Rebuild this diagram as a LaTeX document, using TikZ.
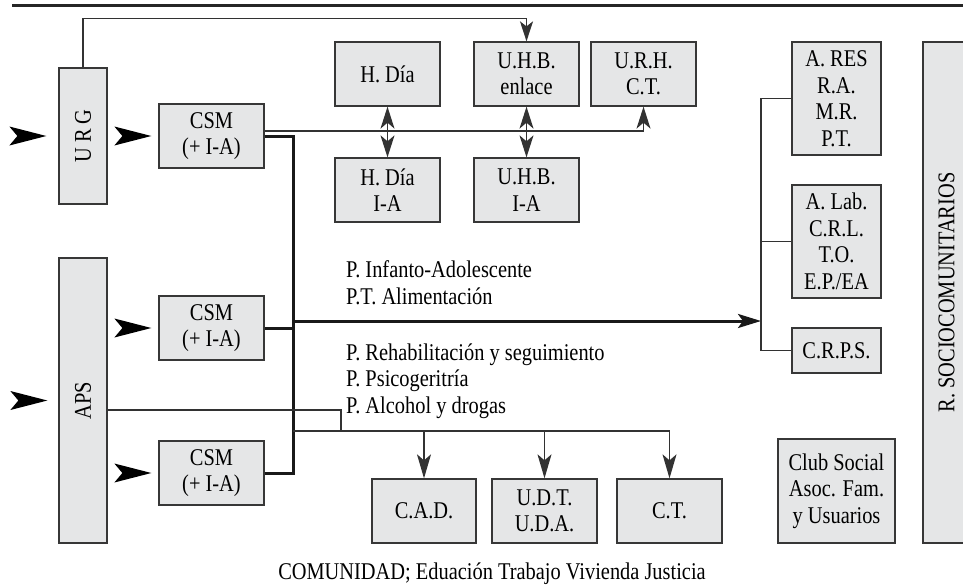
\documentclass[tikz,border=0pt]{standalone}
\usepackage{fontspec}
\setmainfont{Liberation Serif}[FakeStretch=0.85]
\usepackage{graphicx}
\usetikzlibrary{arrows.meta}

\definecolor{boxfill}{RGB}{229,230,231}
\definecolor{boxline}{RGB}{55,55,55}
\definecolor{wirecol}{RGB}{50,50,50}

\begin{document}
\begin{tikzpicture}[x=1pt, y=-1pt,
        box/.style  = {draw=boxline, fill=boxfill, line width=1.3pt,
                       minimum width=105pt, minimum height=64pt,
                       inner sep=0pt, align=center},
        txt/.style  = {inner sep=0pt, align=left},
        wire/.style = {draw=wirecol, line width=1.4pt},
        bus/.style  = {draw=black!90, line width=3pt},
        tip/.style  = {-{Stealth[length=22pt, width=14pt, inset=6pt]}},
        tips/.style = {{Stealth[length=22pt, width=14pt, inset=6pt]}-{Stealth[length=22pt, width=14pt, inset=6pt]}},
             font = \fontsize{24}{26.5}\selectfont
                                ]
        \useasboundingbox (0,0) rectangle (963,584);
        \clip (0,0) rectangle (963,584);
        % top rule
        \draw[black!85, line width=2.7pt] (12,5.3) -- (963,5.3);

        % entry points
        \node[box, minimum width=48pt, minimum height=136pt] (urg) at (83,136) {\rotatebox{90}{U R G}};
        \node[box, minimum width=48pt, minimum height=285pt] (aps) at (83,400.5) {\rotatebox{90}{APS}};
        \node[box] (csm1) at (211.5,136) {CSM\\(+ I-A)};
        \node[box] (csm2) at (211.5,328) {CSM\\(+ I-A)};
        \node[box] (csm3) at (211.5,473) {CSM\\(+ I-A)};

        % hospital units
        \node[box] (hdia)   at (387.5,74)  {H. Día};
        \node[box] (hdiaia) at (387.5,190) {H. Día\\I-A};
        \node[box] (uhbe)   at (526.5,74)  {U.H.B.\\enlace};
        \node[box] (uhbia)  at (526.5,190) {U.H.B.\\I-A};
        \node[box] (urh)    at (643.5,74)  {U.R.H.\\C.T.};

        % rehabilitation resources
        \node[box, minimum width=89pt, minimum height=113pt] (ares) at (836.5,98.5) {A. RES\\R.A.\\M.R.\\P.T.};
        \node[box, minimum width=89pt, minimum height=113pt] (alab) at (836.5,241.5) {A. Lab.\\C.R.L.\\T.O.\\E.P./EA};
        \node[box, minimum width=89pt, minimum height=45pt] (crps) at (836.5,350.5) {C.R.P.S.};
        \node[box, minimum width=117pt, minimum height=104pt] (club) at (836.5,491) {Club Social\\Asoc. Fam.\\y Usuarios};
        \node[box, minimum width=47pt, minimum height=501pt] (socio) at (946.5,292.5) {\rotatebox{90}{R. SOCIOCOMUNITARIOS}};

        % community services
        \node[box, minimum width=104pt] (cad) at (424,511)   {C.A.D.};
        \node[box] (udt) at (544.5,511) {U.D.T.\\U.D.A.};
        \node[box] (ct)  at (669.5,511) {C.T.};

        % programmes (base = last line)
        \node[txt, anchor=base west] (prog1) at (346,304) {P. Infanto-Adolescente\\P.T. Alimentación};
        \node[txt, anchor=base west] (prog2) at (346,413) {P. Rehabilitación y seguimiento\\P. Psicogeritría\\P. Alcohol y drogas};
        \node[txt, anchor=base] (comunidad) at (492,579) {COMUNIDAD; Eduación Trabajo Vivienda Justicia};

        % incoming arrow heads
        \foreach \n/\g in {urg/12, aps/11, csm1/7, csm2/7, csm3/7}
            \fill ([xshift=-\g pt]\n.west) -- ++(-37,-9.5) -- ++(8,9.5) -- ++(-8,9.5) -- cycle;

        % hospital links
        \draw[wire, -{Stealth[length=20pt, width=13pt, inset=5pt]}]
            (urg.north) |- ([yshift=23pt]uhbe.north) -- (uhbe.north);
        \draw[wire, tip] ([yshift=5pt]csm1.east) -| (urh.south);
        \draw[wire, tips] (hdia.south) -- (hdiaia.north);
        \draw[wire, tips] (uhbe.south) -- (uhbia.north);

        % main trunk
        \coordinate (trunk) at (293,0);
        \coordinate (fork)  at (761,321);
        \draw[bus] (csm1.east) -| (csm3.east -| trunk) -- (csm3.east);
        \draw[bus] (csm2.east) -- (csm2.east -| trunk);
        \draw[bus, -{Stealth[length=23pt, width=14pt, inset=5pt]}] (fork -| trunk) -- (fork);
        \draw[wire] (ares.west) -| (fork |- crps.west) -- (crps.west);
        \draw[wire] (alab.west) -- (alab.west -| fork);

        % APS to community
        \coordinate (drop) at (341,431);
        \draw[wire] ([yshift=-9.5pt]aps.east) -| (drop);
        \draw[wire, -{Stealth[length=24pt, width=14pt, inset=6pt]}] (drop -| trunk) -| (ct.north);
        \foreach \n in {cad, udt}
            \draw[wire, -{Stealth[length=24pt, width=14pt, inset=6pt]}] (drop -| \n.north) -- (\n.north);

    \end{tikzpicture}
\end{document}
